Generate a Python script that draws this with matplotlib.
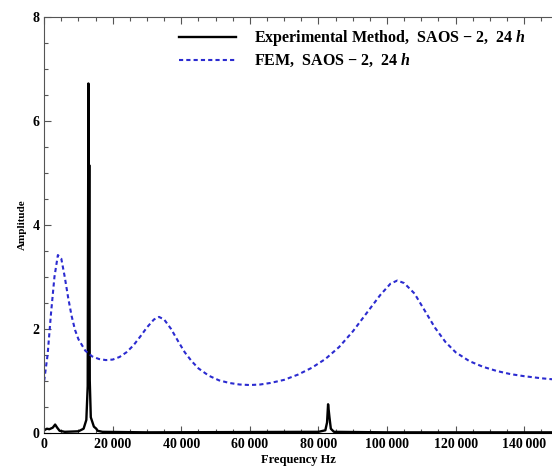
import matplotlib
matplotlib.use("Agg")
import matplotlib.pyplot as plt
from matplotlib.ticker import MultipleLocator, FuncFormatter

plt.rcParams["font.family"] = ["Liberation Serif", "DejaVu Serif"]
plt.rcParams["font.weight"] = "bold"
plt.rcParams["mathtext.fontset"] = "custom"
plt.rcParams["mathtext.bfit"] = "Liberation Serif:italic:bold"
plt.rcParams["mathtext.rm"] = "Liberation Serif:bold"

# FEM curve
fem_freq = [0, 1000, 2000, 3000, 4000, 5000, 6000, 7000, 8000, 9000, 10000,
            12000, 14000, 16000, 18000, 20000, 22000, 24000, 26000, 28000,
            30000, 32000, 33500, 35000, 37000, 39000, 41000, 43000, 45000,
            48000, 51000, 54000, 57000, 60000, 63000, 66000, 70000, 74000,
            78000, 82000, 86000, 90000, 94000, 98000, 101000, 103000, 105000,
            108000, 111000, 114000, 117000, 120000, 124000, 128000, 132000,
            136000, 140000, 145000, 150000]
fem_amp = [1.0, 1.5, 2.3, 3.0, 3.42, 3.35, 3.0, 2.6, 2.25, 1.98, 1.8,
           1.58, 1.47, 1.42, 1.40, 1.41, 1.46, 1.55, 1.68, 1.85,
           2.03, 2.18, 2.23, 2.18, 2.0, 1.77, 1.55, 1.38, 1.24,
           1.10, 1.01, 0.96, 0.93, 0.92, 0.93, 0.96, 1.02, 1.12,
           1.25, 1.42, 1.65, 1.95, 2.3, 2.65, 2.87, 2.93, 2.88,
           2.68, 2.35, 2.02, 1.75, 1.55, 1.38, 1.27, 1.19,
           1.13, 1.09, 1.05, 1.02]

# Experimental spectrum
exp_freq = [0, 800, 1500, 2500, 3200, 3800, 4500, 6000, 10000, 11500, 12300,
            12700, 12900, 13000, 13150, 13300, 13600, 14500, 15200, 15600,
            17000, 30000, 80000, 82000, 82500, 82800, 83200, 83600, 84500,
            100000, 150000]
exp_amp = [0.05, 0.08, 0.07, 0.1, 0.16, 0.1, 0.04, 0.02, 0.03, 0.08, 0.25,
           0.9, 6.72, 2.0, 5.15, 1.0, 0.3, 0.12, 0.08, 0.04,
           0.02, 0.01, 0.02, 0.05, 0.2, 0.55, 0.3, 0.08, 0.02,
           0.01, 0.01]

fig = plt.figure(figsize=(5.52, 4.70), dpi=100)
ax = fig.add_axes([0.08, 0.079, 0.92, 0.885])

ax.plot(exp_freq, exp_amp, color="black", linewidth=1.7,
        label=r"Experimental Method,  SAOS $-$ 2,  24 $\mathbfit{h}$")
ax.plot(fem_freq, fem_amp, color="#2b2bd0", linewidth=1.5,
        linestyle=(0, (2, 1.5)),
        label=r"FEM,  SAOS $-$ 2,  24 $\mathbfit{h}$")

ax.set_xlim(0, 148100)
ax.set_ylim(0, 8)
ax.xaxis.set_major_locator(MultipleLocator(20000))
ax.xaxis.set_minor_locator(MultipleLocator(5000))
ax.yaxis.set_major_locator(MultipleLocator(2))
ax.yaxis.set_minor_locator(MultipleLocator(0.5))
ax.xaxis.set_major_formatter(FuncFormatter(
    lambda v, p: "0" if v == 0 else f"{int(v):,}".replace(",", "\u2009")))
ax.yaxis.set_major_formatter(FuncFormatter(lambda v, p: f"{int(v)}"))

ax.tick_params(which="both", direction="in", top=True, right=False,
               labelsize=10, width=0.8, color="#555555")
ax.tick_params(which="major", length=5)
ax.tick_params(which="minor", length=3)
for lbl in ax.get_xticklabels() + ax.get_yticklabels():
    lbl.set_fontweight("bold")
ax.spines["right"].set_visible(False)
for s in ("left", "bottom", "top"):
    ax.spines[s].set_color("#555555")
ax.spines["bottom"].set_color("black")

ax.set_xlabel("Frequency Hz", fontsize=9, fontweight="bold", labelpad=2)
ax.set_ylabel("Amplitude", fontsize=8, fontweight="bold", labelpad=4)

leg = ax.legend(loc="upper right", frameon=False, handlelength=3.6,
                handletextpad=1.1, fontsize=11.5, borderaxespad=0.3,
                labelspacing=0.25, bbox_to_anchor=(0.97, 1.0))
for t in leg.get_texts():
    t.set_fontweight("bold")

fig.savefig("out.png", dpi=100)
